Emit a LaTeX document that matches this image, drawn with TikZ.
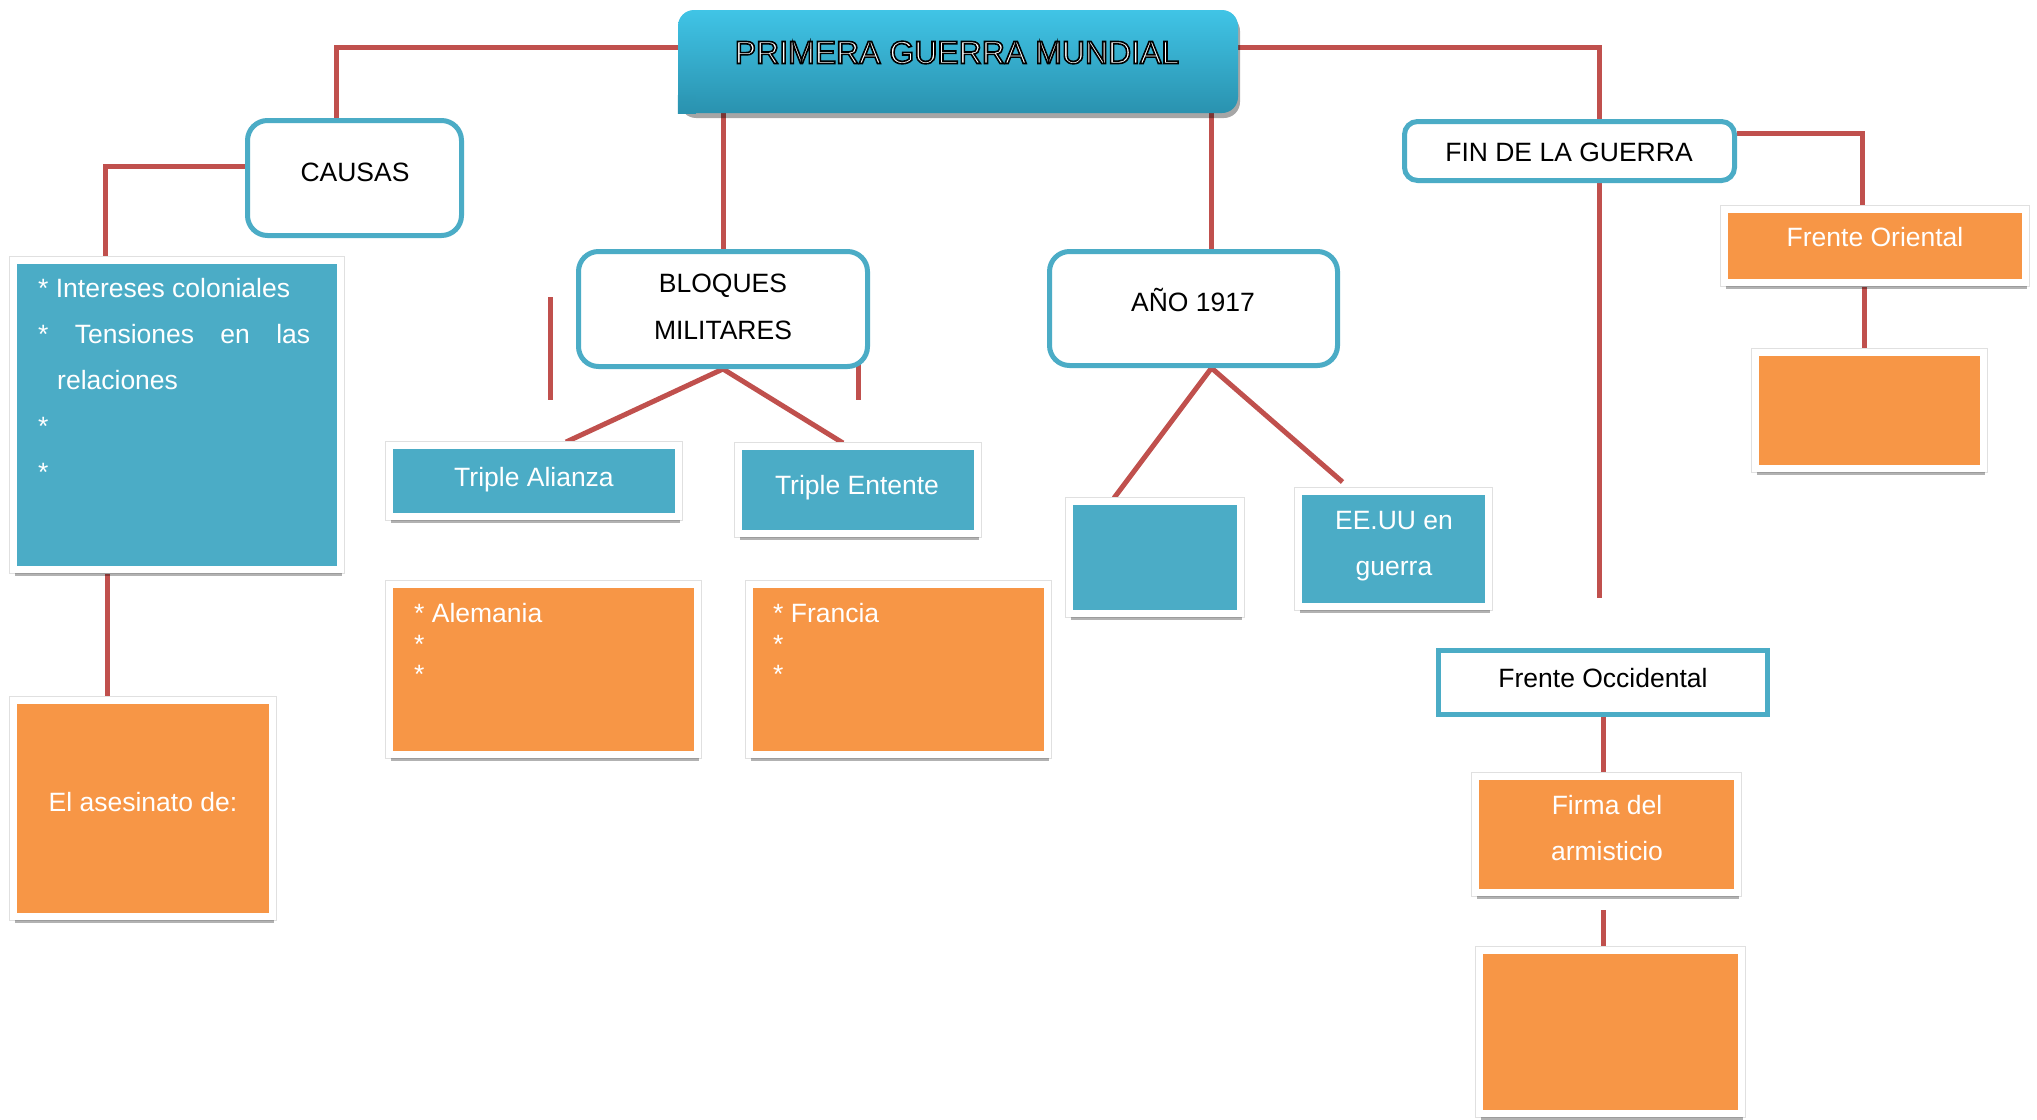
\documentclass[tikz,border=0pt]{standalone}
\usepackage{fontspec}
\setmainfont{Liberation Sans}
\usetikzlibrary{shadows,backgrounds,calc}
\definecolor{accblue}{HTML}{4BACC6}
\definecolor{accorange}{HTML}{F79646}
\definecolor{accred}{HTML}{C0504D}
\definecolor{titletop}{HTML}{40C4E6}
\definecolor{titlebot}{HTML}{2A92AF}
\newcommand{\outlinetext}[1]{\special{pdf:literal direct 2 Tr 1.6 w 0 G}#1\special{pdf:literal direct 0 Tr}}
\tikzset{
  conn/.style={draw=accred, line width=5pt},
  framed/.style={rectangle, draw=white, line width=7pt, inner sep=0pt,
    preaction={draw=black!12, line width=8.5pt},
    drop shadow={shadow xshift=1pt, shadow yshift=-6pt, opacity=0.3, fill=black}},
  bluebox/.style={framed, fill=accblue},
  orangebox/.style={framed, fill=accorange},
  roundbox/.style={rectangle, rounded corners=20pt, draw=accblue, line width=5pt, fill=white, inner sep=0pt},
  squarebox/.style={rectangle, draw=accblue, line width=5pt, fill=white, inner sep=0pt},
  titlebox/.style={rectangle, rounded corners=16pt, top color=titletop, bottom color=titlebot,
    inner sep=0pt, drop shadow={shadow xshift=2pt, shadow yshift=-5pt, opacity=0.35, fill=black}},
  wtext/.style={text=white, font=\fontsize{26.5pt}{32pt}\selectfont, inner sep=0pt},
  btext/.style={text=black, font=\fontsize{26.5pt}{32pt}\selectfont, inner sep=0pt},
}
\begin{document}
\begin{tikzpicture}[x=1pt, y=-1pt]
\useasboundingbox (0,0) rectangle (2037,1119);

% title
\node[titlebox, minimum width=560pt, minimum height=103pt] (title) at (958,61.5) {};
\shade[top color=titlebot!84!titletop, bottom color=titlebot] (title.south west) rectangle ++(18,-18);
\node[anchor=base, inner sep=0pt, text=white, font=\fontsize{32pt}{38pt}\selectfont] (titletxt) at (957,63.5) {\outlinetext{PRIMERA GUERRA MUNDIAL}};

% rounded heading boxes
\node[roundbox, minimum width=214pt, minimum height=115pt] (causas) at (354.5,178) {};
\node[btext, anchor=base] (causastxt) at (355,181.5) {CAUSAS};
\node[roundbox, minimum width=289pt, minimum height=115pt] (bloques) at (723,309) {};
\node[btext, anchor=base] (bloquestxt1) at (723,292.5) {BLOQUES};
\node[btext, anchor=base] (bloquestxt2) at (723,339.5) {MILITARES};
\node[roundbox, minimum width=288pt, minimum height=114pt] (ano) at (1193.5,308.5) {};
\node[btext, anchor=base] (anotxt) at (1193,311.5) {AÑO 1917};
\node[roundbox, rounded corners=13pt, minimum width=330pt, minimum height=59pt] (fin) at (1569.5,151) {};
\node[btext, anchor=base] (fintxt) at (1569,161.5) {FIN DE LA GUERRA};
\node[squarebox, minimum width=329pt, minimum height=64pt] (occ) at (1603,682.5) {};
\node[btext, anchor=base] (occtxt) at (1603,687.5) {Frente Occidental};

% causes
\node[bluebox, minimum width=327pt, minimum height=309pt] (causes) at (177,415) {};
\node[wtext, anchor=base west] (cl1) at (38,297.5) {* Intereses coloniales};
\node[wtext, anchor=base west] (cl2) at (38,343.5) {\makebox[272pt][s]{* Tensiones en las}};
\node[wtext, anchor=base west] (cl3) at (57,389.5) {relaciones};
\node[wtext, anchor=base west] (cl4) at (38,435.5) {*};
\node[wtext, anchor=base west] (cl5) at (38,481.5) {*};
\node[orangebox, minimum width=259pt, minimum height=216pt] (asesinato) at (143,808.5) {};
\node[wtext, anchor=base] (asetxt) at (143,811.5) {El asesinato de:};

% blocs
\node[bluebox, minimum width=289pt, minimum height=71pt] (alianza) at (534,481) {};
\node[wtext, anchor=base] (alianzatxt) at (534,486.5) {Triple Alianza};
\node[bluebox, minimum width=239pt, minimum height=87pt] (entente) at (858,490) {};
\node[wtext, anchor=base] (ententetxt) at (857,494.5) {Triple Entente};
\node[orangebox, minimum width=308pt, minimum height=170pt] (alemania) at (543.5,669.5) {};
\node[wtext, anchor=base west] (al1) at (414,622.5) {* Alemania};
\node[wtext, anchor=base west] (al2) at (414,653) {*};
\node[wtext, anchor=base west] (al3) at (414,683) {*};
\node[orangebox, minimum width=298pt, minimum height=170pt] (francia) at (898.5,669.5) {};
\node[wtext, anchor=base west] (fr1) at (773,622.5) {* Francia};
\node[wtext, anchor=base west] (fr2) at (773,653) {*};
\node[wtext, anchor=base west] (fr3) at (773,683) {*};

% 1917
\node[bluebox, minimum width=171pt, minimum height=112pt] (blank) at (1155,557.5) {};
\node[bluebox, minimum width=190pt, minimum height=115pt] (eeuu) at (1393.5,549) {};
\node[wtext, anchor=base] (eeuutxt1) at (1394,529.5) {EE.UU en};
\node[wtext, anchor=base] (eeuutxt2) at (1394,575.5) {guerra};

% end of war
\node[orangebox, minimum width=301pt, minimum height=73pt] (oriental) at (1875,246) {};
\node[wtext, anchor=base] (orientaltxt) at (1875,246.5) {Frente Oriental};
\node[orangebox, minimum width=228pt, minimum height=116pt] (orempty) at (1869.5,410.5) {};
\node[orangebox, minimum width=262pt, minimum height=116pt] (firma) at (1606.5,834.5) {};
\node[wtext, anchor=base] (firmatxt1) at (1607,814.5) {Firma del};
\node[wtext, anchor=base] (firmatxt2) at (1607,860.5) {armisticio};
\node[orangebox, minimum width=262pt, minimum height=163pt] (bottom) at (1610.5,1032) {};

% free ends
\coordinate (finend) at (1599,598);
\coordinate (s1a) at (550,297);
\coordinate (s1b) at (550,400);
\coordinate (s2a) at (858,297);
\coordinate (s2b) at (858,400);

\begin{scope}[on background layer]
\fill[white] (0,0) rectangle (2037,1119);
\draw[conn] (title.west |- 0,47) -| ([xshift=-18.5pt]causas.north);
\draw[conn] (title.east |- 0,47) -| ([xshift=29.5pt]fin.north);
\draw[conn] ([xshift=29.5pt]fin.south) -- (finend);
\draw[conn] (causas.west |- 0,166) -| ([xshift=-72pt]causes.north);
\draw[conn] ([xshift=-70pt]causes.south) -- ([xshift=-70pt]causes.south |- asesinato.north);
\draw[conn] (bloques.north |- title.south) -- (bloques.north);
\draw[conn] ([xshift=18pt]ano.north |- title.south) -- ([xshift=18pt]ano.north);
\draw[conn] (bloques.south) -- ([xshift=32pt]alianza.north);
\draw[conn] (bloques.south) -- ([xshift=-15pt]entente.north);
\draw[conn] (s1a) -- (s1b);
\draw[conn] (s2a) -- (s2b);
\draw[conn] ([xshift=18pt]ano.south) -- ([xshift=-41pt]blank.north);
\draw[conn] ([xshift=18pt]ano.south) -- ([xshift=-51pt,yshift=6pt]eeuu.north);
\draw[conn] (fin.east |- 0,133) -| ([xshift=-12.5pt]oriental.north);
\draw[conn] ([xshift=-10.5pt]oriental.south) -- ([xshift=-10.5pt]oriental.south |- orempty.north);
\draw[conn] (occ.south) -- (occ.south |- firma.north);
\draw[conn] ($(occ.south |- firma.south)+(0,14)$) -- (occ.south |- bottom.north);
\end{scope}
\end{tikzpicture}
\end{document}
